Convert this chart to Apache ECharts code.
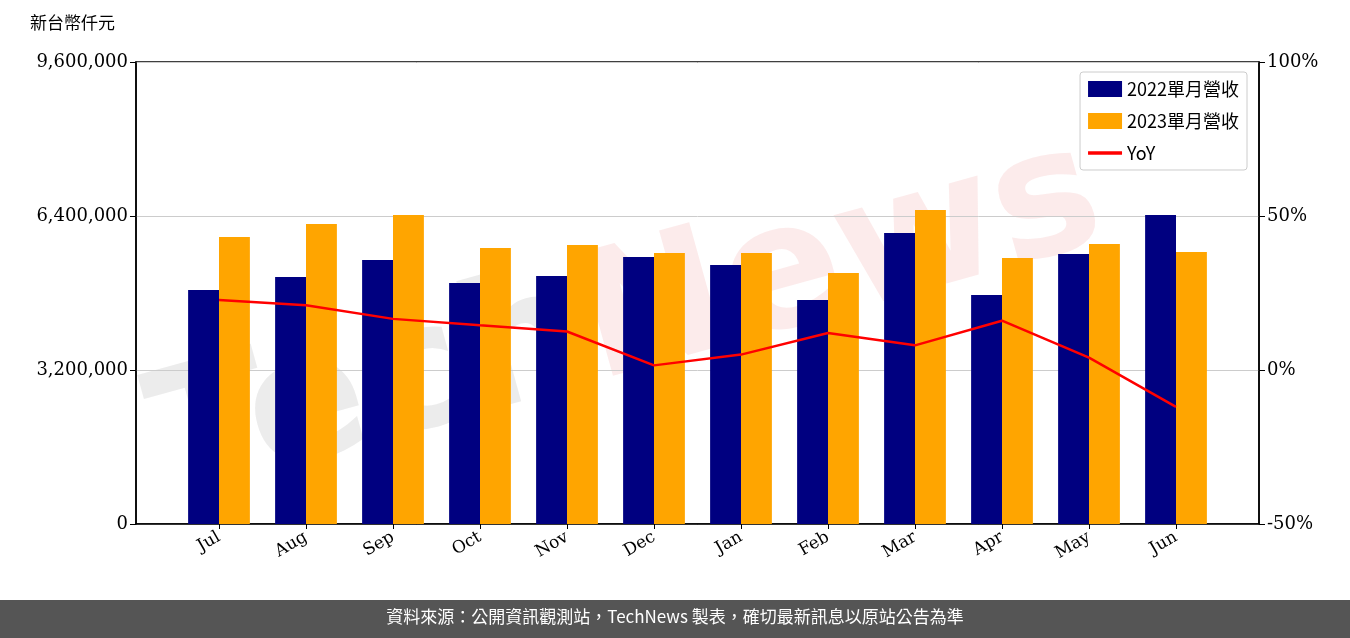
<!DOCTYPE html>
<html><head><meta charset="utf-8">
<script src="https://cdn.jsdelivr.net/npm/echarts@6/dist/echarts.min.js"></script>
<style>html,body{margin:0;padding:0;background:#fff}#c{width:1350px;height:638px}</style>
</head><body><div id="c"></div>
<script>
const categories=['Jul','Aug','Sep','Oct','Nov','Dec','Jan','Feb','Mar','Apr','May','Jun'];
const rev2022=[4862000,5132000,5486000,5008000,5153000,5548000,5382000,4654000,6047000,4758000,5610000,6421000];
const rev2023=[5964000,6234000,6421000,5735000,5797000,5631000,5631000,5216000,6525000,5527000,5818000,5652000];
const yoy=[22.7,21.0,16.6,14.5,12.5,1.5,5.0,12.0,8.0,16.0,4.0,-12.0];
const leftTicks=['0','3,200,000','6,400,000','9,600,000'];
const F='"Noto Sans CJK TC","DejaVu Sans",sans-serif';
const S='"DejaVu Serif",serif';
const chart=echarts.init(document.getElementById('c'));
const axLine={show:true,lineStyle:{color:'#000',width:1.5}};
const tick={show:true,length:6,lineStyle:{color:'#000'}};
chart.setOption({
 animation:false,
 graphic:[
  {type:'rect',left:0,top:600,shape:{width:1350,height:38},style:{fill:'#555'}},
  {type:'text',left:'center',top:608,style:{text:'資料來源：公開資訊觀測站，TechNews 製表，確切最新訊息以原站公告為準',fill:'#fff',font:'17px '+F}},
  {type:'text',x:135,y:370,rotation:0.27,z:-1,style:{text:'{a|Tech}{b|News}',
    rich:{a:{fill:'rgba(170,170,170,0.22)',font:'bold 175px "DejaVu Sans"'},b:{fill:'rgba(235,120,120,0.15)',font:'bold 175px "DejaVu Sans"'}}}},
  {type:'text',left:30,top:14,style:{text:'新台幣仟元',fill:'#000',font:'17px '+F}}
 ],
 legend:{orient:'vertical',right:103,top:72,itemWidth:34,itemHeight:16,itemGap:14,padding:[8,8,8,8],
  borderColor:'#ccc',borderWidth:1,borderRadius:3,backgroundColor:'rgba(255,255,255,0.8)',
  textStyle:{fontSize:18,fontFamily:F,color:'#000'},
  data:[{name:'2022單月營收',icon:'rect'},{name:'2023單月營收',icon:'rect'},{name:'YoY',icon:'path://M0,0 L40,0 L40,4 L0,4 Z'}]},
 grid:[{left:175.5,right:130.5,top:62,bottom:114},{left:136,right:91,top:62,bottom:114,show:true,borderColor:'#000',borderWidth:1.5}],
 xAxis:[
  {type:'category',gridIndex:0,data:categories,axisTick:{show:true,alignWithLabel:true,length:5,lineStyle:{color:'#000'}},
   axisLine:{show:false},
   axisLabel:{rotate:30,fontSize:17,color:'#000',fontFamily:S,margin:12}},
  {type:'value',gridIndex:1,min:0,max:1,axisLine:axLine,axisTick:{show:false},axisLabel:{show:false},splitLine:{show:false}}
 ],
 yAxis:[
  {type:'value',gridIndex:0,min:0,max:9600000,interval:3200000,show:false},
  {type:'value',gridIndex:0,min:-50,max:100,interval:50,show:false},
  {type:'value',gridIndex:1,min:0,max:9600000,interval:3200000,
   axisLine:axLine,axisTick:tick,splitLine:{lineStyle:{color:'#ccc'}},
   axisLabel:{fontSize:18,color:'#000',fontFamily:S,formatter:v=>leftTicks[Math.round(v/3200000)]}},
  {type:'value',gridIndex:1,min:-50,max:100,interval:50,position:'right',
   axisLine:axLine,axisTick:tick,splitLine:{show:false},
   axisLabel:{fontSize:18,color:'#000',fontFamily:S,formatter:'{value}%'}}
 ],
 series:[
  {name:'2022單月營收',type:'bar',xAxisIndex:0,yAxisIndex:0,data:rev2022,itemStyle:{color:'#000080'},barGap:'0%',barCategoryGap:'29%'},
  {name:'2023單月營收',type:'bar',xAxisIndex:0,yAxisIndex:0,data:rev2023,itemStyle:{color:'#FFA500'}},
  {name:'YoY',type:'line',xAxisIndex:0,yAxisIndex:1,data:yoy,symbol:'none',lineStyle:{color:'#ff0000',width:2.5},itemStyle:{color:'#ff0000'},z:5}
 ]
});
</script></body></html>
